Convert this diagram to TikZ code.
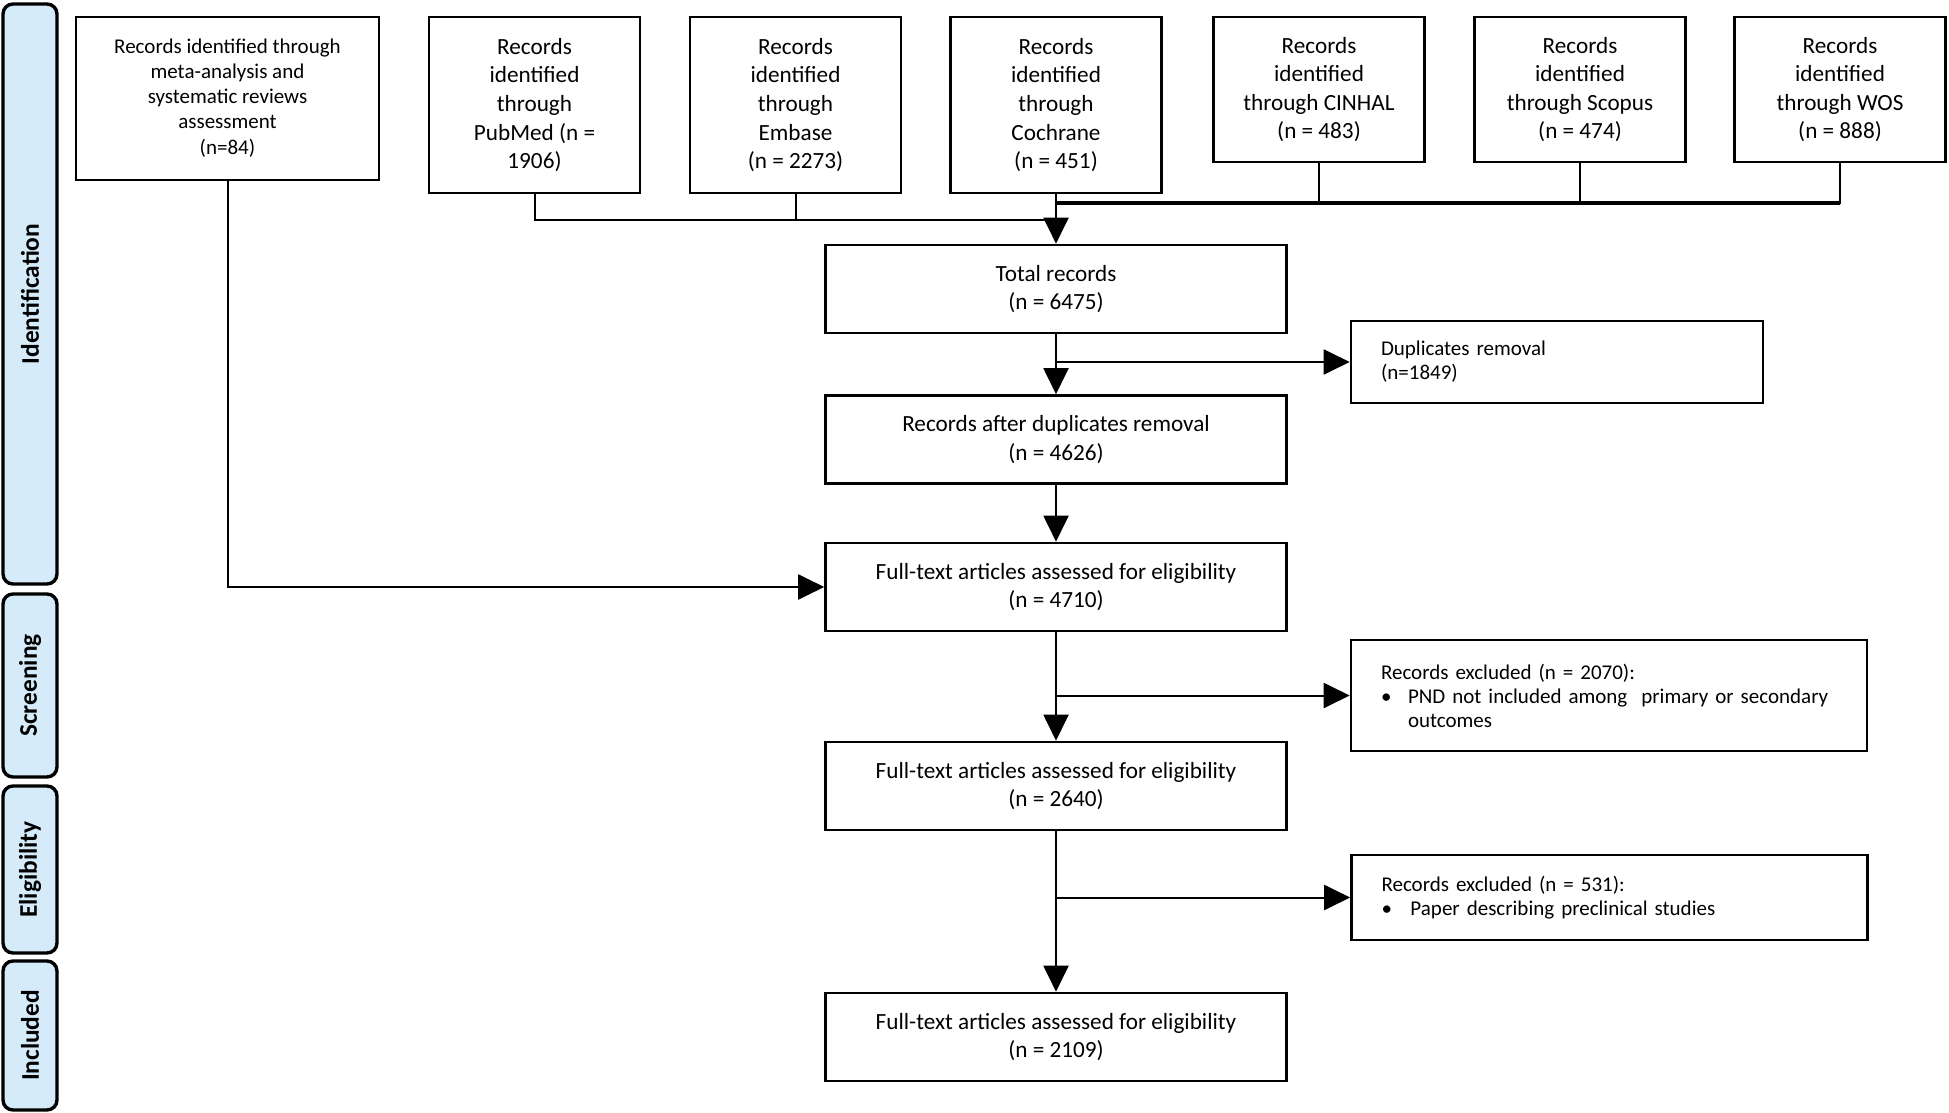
\documentclass[tikz,border=0pt]{standalone}
\usepackage{fontspec}
\setmainfont{Carlito}
\usetikzlibrary{arrows.meta}
\definecolor{tabblue}{HTML}{D5EBFA}
\begin{document}
\begin{tikzpicture}[x=0.5pt,y=-0.5pt,
  box/.style={draw, line width=1.3pt, align=center, inner sep=0pt, font=\fontsize{11.6}{14.3}\selectfont},
  srcbox/.style={box, minimum width=105.5pt},
  mainbox/.style={box, minimum width=230.5pt, minimum height=44pt},
  sidebox/.style={draw, line width=1.3pt, align=left, inner xsep=15pt, inner ysep=0pt, font=\fontsize{10.5}{12}\selectfont},
  tab/.style={draw, line width=1.7pt, rounded corners=5pt, fill=tabblue, rotate=90, minimum height=27pt, inner sep=0pt, font=\fontsize{12.7}{14}\selectfont\bfseries},
  conn/.style={line width=1pt},
  arr/.style={line width=1pt, -{Triangle[length=13pt,width=12.5pt]}}]
\path[use as bounding box, fill=white] (0,0) rectangle (1949,1113);

% phase tabs
\node[tab, minimum width=290pt] (tid) at (30,294) {Identification};
\node[tab, minimum width=91.5pt] (tsc) at (30,685.5) {Screening};
\node[tab, minimum width=83.5pt] (tel) at (30,869.5) {Eligibility};
\node[tab, minimum width=74.5pt] (tin) at (30,1035.5) {Included};

% source boxes
\node[box, minimum width=151.5pt, minimum height=81.5pt, font=\fontsize{10.5}{12.4}\selectfont] (meta) at (227.5,98.5)
  {Records identified through\\meta-analysis and\\systematic reviews\\assessment\\[1pt](n=84)};
\node[srcbox, minimum height=88pt] (pub) at (534.5,105) {Records\\identified\\through\\PubMed (n =\\1906)};
\node[srcbox, minimum height=88pt] (emb) at (795.5,105) {Records\\identified\\through\\Embase\\(n = 2273)};
\node[srcbox, minimum height=88pt] (coc) at (1056,105) {Records\\identified\\through\\Cochrane\\(n = 451)};
\node[srcbox, minimum height=72.5pt] (cin) at (1319,89.5) {Records\\identified\\through CINHAL\\(n = 483)};
\node[srcbox, minimum height=72.5pt] (sco) at (1580,89.5) {Records\\identified\\through Scopus\\(n = 474)};
\node[srcbox, minimum height=72.5pt] (wos) at (1840,89.5) {Records\\identified\\through WOS\\(n = 888)};

% main column
\node[mainbox] (tot) at (1056,289) {Total records\\(n = 6475)};
\node[mainbox] (adr) at (1056,439.5) {Records after duplicates removal\\(n = 4626)};
\node[mainbox] (ft1) at (1056,587) {Full-text articles assessed for eligibility\\(n = 4710)};
\node[mainbox] (ft2) at (1056,786) {Full-text articles assessed for eligibility\\(n = 2640)};
\node[mainbox] (ft3) at (1056,1037) {Full-text articles assessed for eligibility\\(n = 2109)};

% side boxes
\node[sidebox, text width=176pt, minimum height=41pt] (dup) at (1557,362) {Duplicates removal\\(n=1849)};
\node[sidebox, text width=228pt, minimum height=55.5pt] (ex1) at (1609,695.5)
  {Records excluded (n = 2070):\\\makebox[13.5pt][l]{\textbullet}PND not included among\ \ primary or secondary\\\hspace*{13.5pt}outcomes};
\node[sidebox, text width=228pt, minimum height=42.5pt] (ex2) at (1609.5,897.5)
  {Records excluded (n = 531):\\\makebox[14.5pt][l]{\textbullet}Paper describing preclinical studies};

% junctions
\coordinate (j1) at (1056,220);
\coordinate (j2) at (1056,203);

% connectors
\draw[conn] (pub.south) |- (j1);
\draw[conn] (emb.south) |- (j1);
\draw[conn] (cin.south) |- (j2);
\draw[conn] (sco.south) |- (j2);
\draw[conn] (wos.south) |- (j2);
\draw[line width=1.8pt] (wos.south |- j2) -- (j2);
\draw[arr] (coc.south) -- (tot.north);
\draw[arr] (tot.south) -- (adr.north);
\draw[arr] (tot.south |- dup.west) -- (dup.west);
\draw[arr] (adr.south) -- (ft1.north);
\draw[arr] (meta.south) |- (ft1.west);
\draw[arr] (ft1.south) -- (ft2.north);
\draw[arr] (ft1.south |- ex1.west) -- (ex1.west);
\draw[arr] (ft2.south) -- (ft3.north);
\draw[arr] (ft2.south |- ex2.west) -- (ex2.west);
\end{tikzpicture}
\end{document}
